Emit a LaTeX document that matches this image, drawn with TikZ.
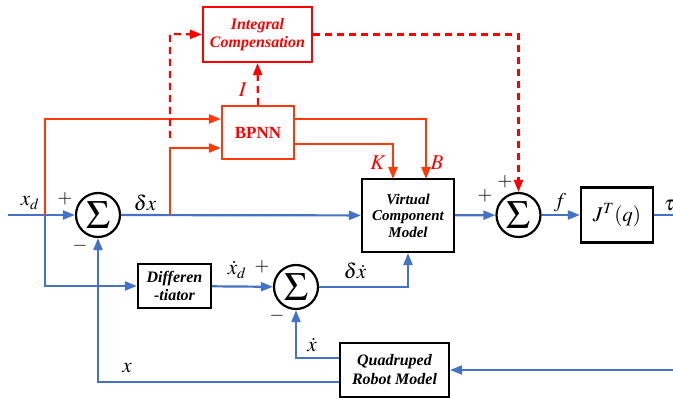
\documentclass[tikz,border=0pt]{standalone}
\usepackage{mathptmx}
\usepackage{fontspec}
\setmainfont{Liberation Serif}
\usetikzlibrary{arrows.meta,calc}
\definecolor{bl}{HTML}{4472C4}
\definecolor{orr}{HTML}{FF3A0A}
\definecolor{rd}{HTML}{FF0000}
\tikzset{
  blk/.style={draw=black,line width=2.2pt,inner sep=0pt,font=\bfseries\itshape\fontsize{15}{16.5}\selectfont,align=center},
  sumc/.style={draw=black,line width=2.2pt,circle,minimum size=44pt,inner sep=0pt},
  bline/.style={draw=bl,line width=2.2pt},
  oline/.style={draw=orr,line width=2.2pt},
  rdash/.style={draw=rd,line width=2.2pt,dash pattern=on 7pt off 5pt},
  tip/.style={-{Triangle[length=12pt,width=9pt]}},
  lab/.style={font=\fontsize{21}{22}\selectfont,inner sep=0pt},
  pm/.style={font=\fontsize{19}{20}\selectfont,inner sep=0pt},
  sig/.style={font=\fontsize{40}{40}\selectfont},
}
\begin{document}
\begin{tikzpicture}[x=1pt,y=-1pt]
\useasboundingbox (0,0) rectangle (673,398);
% blocks
\node[blk,draw=rd,text=rd,font=\bfseries\itshape\fontsize{16}{18}\selectfont,minimum width=109pt,minimum height=55pt] (ic) at (257.5,34.5) {Integral\\Compensation};
\node[blk,draw=orr,text=rd,font=\bfseries\fontsize{17}{18}\selectfont,minimum width=72pt,minimum height=53pt] (nn) at (258,132.5) {BPNN};
\node[blk,minimum width=92pt,minimum height=73pt] (vc) at (408,215.5) {Virtual\\Component\\Model};
\node[blk,font=\bfseries\itshape\fontsize{16}{18}\selectfont,minimum width=73pt,minimum height=44pt] (df) at (174.5,286) {Differen\\-tiator};
\node[blk,font=\bfseries\itshape\fontsize{16}{19}\selectfont,minimum width=109pt,minimum height=54pt] (qr) at (394.5,370) {Quadruped\\Robot Model};
\node[blk,font=\fontsize{21}{22}\selectfont,minimum width=72pt,minimum height=55pt] (jt) at (617,215) {$J^{T}(q)$};
% sums
\node[sumc] (s1) at (98,215) {};
\node[sumc] (s2) at (518.5,215) {};
\node[sumc] (s3) at (296,287) {};
\node[sig] at (s1) {$\Sigma$};
\node[sig] at (s2) {$\Sigma$};
\node[sig] at (s3) {$\Sigma$};
% coordinates
\coordinate (in) at (8,215);
\coordinate (br1) at (45,215);
\coordinate (br2) at (170,215);
\coordinate (out) at (673,215);
\coordinate (qin) at (673,370);
% blue main lines
\draw[bline,tip] (in) -- (s1);
\draw[bline,tip] (s1) -- (vc);
\draw[bline,tip] (vc) -- (s2);
\draw[bline,tip] (s2) -- (jt);
\draw[bline] (jt) -- (out);
\draw[bline,tip] (br1) |- (df);
\draw[bline,tip] (df) -- (s3);
\draw[bline,tip] (s3.east) -| (vc.south);
\draw[bline,tip] (qin) -- (qr);
\draw[bline,tip] (qr.west |- 0,358) -| (s3.south);
\draw[bline,tip] (qr.west |- 0,382) -| (s1.south);
% orange lines
\draw[oline,tip] (br1) |- (nn.west |- 0,119);
\draw[oline,tip] (br2) -- (170,148) -- (nn.west |- 0,148);
\draw[oline,tip] (nn.east |- 0,119) -| (426,179);
\draw[oline,tip] (nn.east |- 0,144) -| (393,179);
% dashed red
\draw[rdash,tip] (170,138) -- (170,34) -- (ic.west);
\draw[rdash,tip] (nn.north) -- (ic.south);
\draw[rdash,tip] (ic.east) -| (s2.north);
% labels
\node[lab] at (30,203) {$x_d$};
\node[pm] at (65,199) {$+$};
\node[pm] at (80,246) {$-$};
\node[lab] at (145,203) {$\delta x$};
\node[lab,text=rd] at (243,90) {$I$};
\node[lab,text=rd] at (378,163) {$K$};
\node[lab,text=rd] at (437,163) {$B$};
\node[lab] at (237,270) {$\dot{x}_d$};
\node[pm] at (262,267) {$+$};
\node[pm] at (277,316) {$-$};
\node[lab] at (355,271) {$\delta\dot{x}$};
\node[lab] at (312,345) {$\dot{x}$};
\node[lab] at (127,368) {$x$};
\node[pm] at (485,196) {$+$};
\node[pm] at (505,182) {$+$};
\node[lab] at (560,203) {$f$};
\node[lab,anchor=west] at (664,205) {$\tau$};
\end{tikzpicture}
\end{document}
